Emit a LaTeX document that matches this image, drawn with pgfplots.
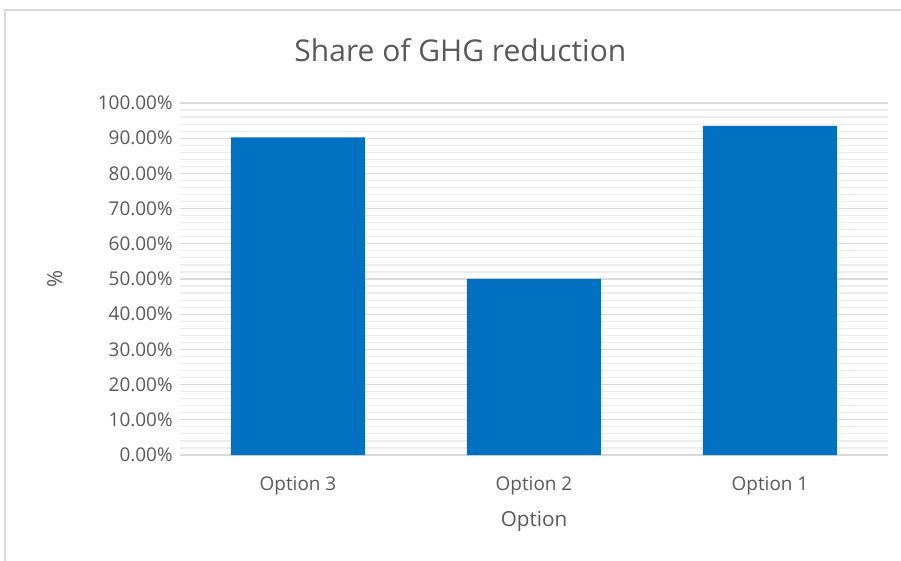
\documentclass[border=0pt]{standalone}
\usepackage{pgfplots}
\pgfplotsset{compat=1.18}
\usepackage{fontspec}
\setmainfont{Open Sans}
\definecolor{barblue}{RGB}{0,112,192}
\definecolor{txtgray}{RGB}{89,89,89}
\definecolor{majgrid}{RGB}{217,217,217}
\definecolor{mingrid}{RGB}{236,236,236}
\definecolor{framegray}{RGB}{217,217,217}
\begin{document}
\begin{tikzpicture}
\path[use as bounding box, fill=white] (-135pt,-79.5pt) rectangle (540.75pt,341.25pt);
\draw[framegray, line width=1.2pt] (-131.25pt,-80pt) -- (-131.25pt,333.75pt) -- (541pt,333.75pt);
\begin{axis}[
  at={(0,0)}, anchor=south west,
  scale only axis, width=531pt, height=264pt,
  ybar, bar width=100.5pt,
  xmin=-0.5, xmax=2.5, ymin=0, ymax=100,
  xtick={0,1,2}, xticklabels={Option 3,Option 2,Option 1},
  ytick distance=10, minor y tick num=4,
  ymajorgrids, yminorgrids,
  major grid style={majgrid, line width=0.9pt},
  minor grid style={mingrid, line width=0.9pt},
  major tick length=0pt, minor tick length=0pt,
  axis line style={draw=none},
  separate axis lines,
  axis x line*=bottom, axis y line*=left,
  x axis line style={draw=majgrid, line width=0.9pt, -},
  y axis line style={draw=none},
  /pgf/number format/assume math mode=true,
  yticklabel={\pgfmathprintnumber[fixed,fixed zerofill,precision=2,assume math mode=true]{\tick}\%},
  ticklabel style={font=\fontsize{14.2}{17}\selectfont, text=txtgray},
  yticklabel style={xshift=-2pt},
  xticklabel style={yshift=-13pt},
  title={Share of GHG reduction},
  title style={font=\fontsize{22.5}{27}\selectfont, text=txtgray, at={(axis description cs:0.396,1.128)}, anchor=center},
  xlabel={Option}, ylabel={\%},
  label style={font=\fontsize{15.5}{18}\selectfont, text=txtgray},
  xlabel style={at={(axis description cs:0.5,-0.19)}, anchor=center},
  ylabel style={at={(axis description cs:-0.177,0.5)}, anchor=center},
  clip=false,
]
\addplot[fill=barblue, draw=none] coordinates {(0,90.2) (1,50.0) (2,93.5)};
\end{axis}
\end{tikzpicture}
\end{document}
